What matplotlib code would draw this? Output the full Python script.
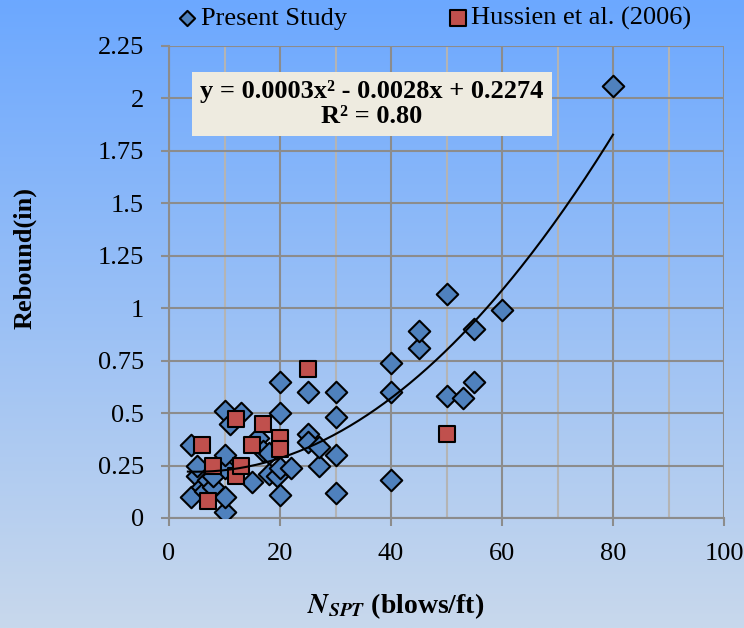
import numpy as np
import matplotlib
matplotlib.use("Agg")
import matplotlib.pyplot as plt
from matplotlib.ticker import MultipleLocator

plt.rcParams['font.family'] = ['Liberation Serif', 'DejaVu Serif']
plt.rcParams['mathtext.fontset'] = 'stix'

# Present Study (blue diamonds)
ps_n = [4, 4, 5, 5, 6, 6.5, 7, 8, 8, 10, 10, 10, 10, 10, 11, 13, 15, 16, 17, 18,
        18, 19.5, 20, 20, 20, 20, 22, 25, 25, 25, 27, 27, 30, 30, 30, 30, 40, 40,
        40, 45, 45, 50, 50, 53, 55, 55, 60, 80]
ps_reb = [0.10, 0.35, 0.20, 0.25, 0.15, 0.13, 0.18, 0.15, 0.20, 0.03, 0.10, 0.24,
          0.30, 0.51, 0.45, 0.50, 0.17, 0.38, 0.32, 0.21, 0.31, 0.20, 0.11, 0.24,
          0.50, 0.65, 0.24, 0.40, 0.36, 0.60, 0.25, 0.34, 0.12, 0.30, 0.48, 0.60,
          0.18, 0.60, 0.74, 0.81, 0.89, 0.58, 1.07, 0.57, 0.65, 0.90, 0.99, 2.06]

# Hussien et al. (2006) (red squares)
hu_n = [6, 7, 8, 12, 12, 13, 15, 17, 20, 20, 25, 50]
hu_reb = [0.35, 0.08, 0.25, 0.47, 0.20, 0.25, 0.35, 0.45, 0.38, 0.33, 0.71, 0.40]

# polynomial trendline coefficients (as drawn)
trend_coef = [0.000285, -0.0028, 0.2274]
trend_range = [3.4, 80]

y_ticks = [0, 0.25, 0.5, 0.75, 1, 1.25, 1.5, 1.75, 2, 2.25]
y_ticklabels = ['0', '0.25', '0.5', '0.75', '1', '1.25', '1.5', '1.75', '2', '2.25']

fig = plt.figure(figsize=(7.44, 6.28), dpi=100)

# gradient background
bg = fig.add_axes([0, 0, 1, 1], zorder=-10)
top = np.array([108, 168, 255]) / 255
bot = np.array([200, 216, 236]) / 255
t = np.linspace(0, 1, 256)[:, None]
grad = top + (bot - top) * t
bg.imshow(grad[:, None, :].repeat(2, axis=1), aspect='auto', extent=[0, 1, 0, 1])
bg.axis('off')

ax = fig.add_axes([169 / 744, 1 - 518 / 628, 555 / 744, 472 / 628])
ax.set_facecolor('none')

ax.scatter(ps_n, ps_reb, marker='D', s=120, facecolor='#4f81bd', edgecolor='black',
           linewidth=1.5, zorder=3, label='Present Study')
ax.scatter(hu_n, hu_reb, marker='s', s=145, facecolor='#c0504d', edgecolor='black',
           linewidth=1.5, zorder=4, label='Hussien et al. (2006)')

xt = np.linspace(trend_range[0], trend_range[1], 200)
ax.plot(xt, np.polyval(trend_coef, xt), color='black', lw=1.5, zorder=5)

ax.set_xlim(0, 100)
ax.set_ylim(0, 2.25)
ax.xaxis.set_major_locator(MultipleLocator(20))
ax.xaxis.set_minor_locator(MultipleLocator(10))
ax.set_yticks(y_ticks)
ax.set_yticklabels(y_ticklabels)
ax.grid(True, which='major', color='#8c8c8c', lw=1.5, zorder=0)
ax.grid(True, which='minor', axis='x', color='#b4b4b4', lw=1.5, zorder=0)
ax.set_axisbelow(True)
for s in ['top', 'right']:
    ax.spines[s].set_visible(False)
for s in ['left', 'bottom']:
    ax.spines[s].set_color('#8c8c8c')
    ax.spines[s].set_linewidth(1.5)
ax.tick_params(which='major', direction='out', length=6, width=1.5, color='#8c8c8c',
               labelsize=19)
ax.tick_params(axis='y', pad=12)
ax.tick_params(axis='x', pad=12)
ax.tick_params(which='minor', length=0)

fig.text(25 / 744, 1 - 258 / 628, 'Rebound(in)', rotation=90, ha='center', va='center',
         fontsize=19, fontweight='bold')
fig.text(396 / 744, 1 - 606 / 628, r'$\mathbfit{N}_{\mathbfit{SPT}}$ (blows/ft)',
         ha='center', va='center', fontsize=20, fontweight='bold')

ax.text(372 / 744, 1 - 104 / 628,
        'y = 0.0003x² - 0.0028x + 0.2274\nR² = 0.80', transform=fig.transFigure,
        ha='center', va='center', fontsize=19, fontweight='bold', linespacing=1.15,
        bbox=dict(facecolor='#eeebe0', edgecolor='none', boxstyle='square,pad=0.3'),
        zorder=6)

leg = ax.legend(loc='center', bbox_to_anchor=(426 / 744, 1 - 18 / 628),
                bbox_transform=fig.transFigure, ncol=2, frameon=False, fontsize=19,
                handletextpad=-0.5, columnspacing=3.2, borderaxespad=0)
leg.legend_handles[0].set_sizes([60])
leg.legend_handles[1].set_sizes([130])

fig.savefig('out.png', dpi=100)
